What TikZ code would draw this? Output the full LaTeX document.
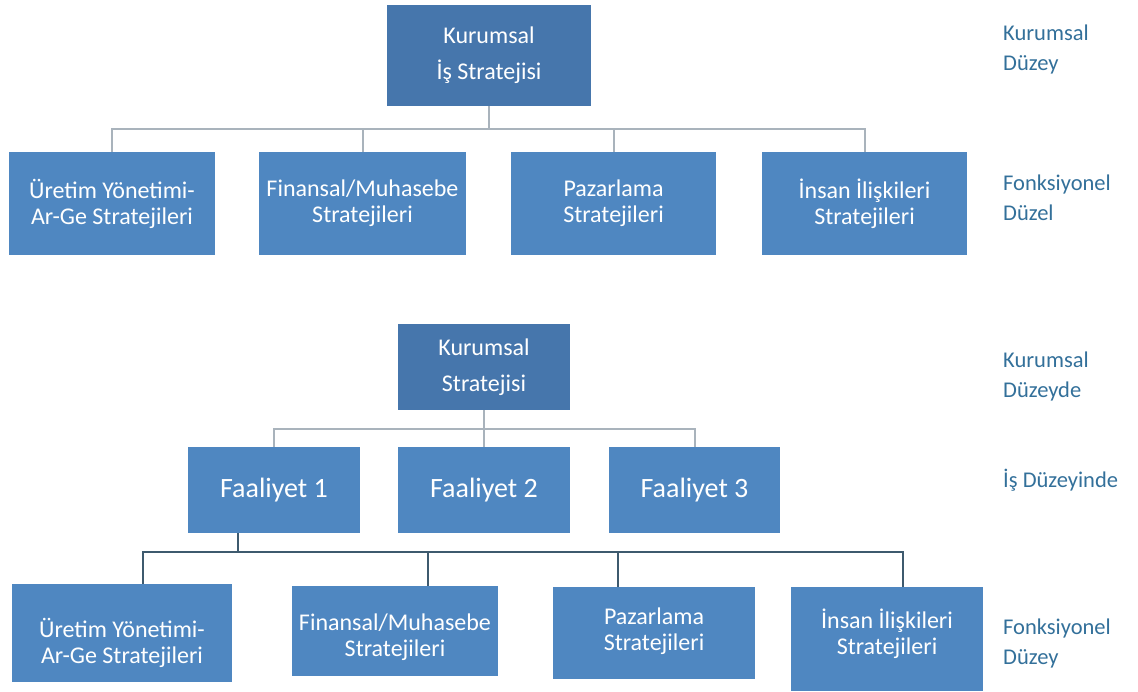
\documentclass[tikz,border=0pt]{standalone}
\usepackage{fontspec}
\setmainfont{Carlito}
\definecolor{darkbox}{HTML}{4676AC}
\definecolor{lightbox}{HTML}{4F87C1}
\definecolor{levelblue}{HTML}{33709A}
\definecolor{thinline}{HTML}{A9B3BC}
\definecolor{darkline}{HTML}{3E5A6E}
\begin{document}
\begin{tikzpicture}[x=1pt,y=-1pt,
  box/.style={fill=lightbox, text=white, inner sep=0pt, align=center, font=\fontsize{24}{26}\selectfont},
  head/.style={box, fill=darkbox, font=\fontsize{24}{36}\selectfont},
  act/.style={box, font=\fontsize{28}{32}\selectfont},
  boxtext/.style={text=white, inner sep=0pt, align=center, font=\fontsize{24}{26}\selectfont},
  level/.style={text=levelblue, anchor=west, align=left, inner sep=0pt, font=\fontsize{22.5}{30}\selectfont},
  conn/.style={thinline, line width=2pt},
  conndark/.style={darkline, line width=2pt}]
\useasboundingbox (0,0) rectangle (1138,691);

\node[head, minimum width=204pt, minimum height=101pt] (kis) at (489,55.5) {Kurumsal\\İş Stratejisi};
\node[box, minimum width=206pt, minimum height=103pt] (fs1) at (112,203.5) {Üretim Yönetimi-\\Ar-Ge Stratejileri};
\node[box, minimum width=207pt, minimum height=103pt] (fs2) at (362.5,203.5) {Finansal/Muhasebe\\Stratejileri};
\node[box, minimum width=205pt, minimum height=103pt] (fs3) at (613.5,203.5) {Pazarlama\\Stratejileri};
\node[box, minimum width=205pt, minimum height=103pt] (fs4) at (864.5,203.5) {İnsan İlişkileri\\Stratejileri};
\foreach \n in {fs1,fs2,fs3,fs4}
  \draw[conn] (kis.south) -- ++(0,23) -| (\n.north);

\node[head, minimum width=172pt, minimum height=86pt] (ks) at (484,367) {Kurumsal\\Stratejisi};
\node[act, minimum width=172pt, minimum height=86pt] (f1) at (274,490) {Faaliyet 1};
\node[act, minimum width=172pt, minimum height=86pt] (f2) at (484,490) {Faaliyet 2};
\node[act, minimum width=171pt, minimum height=86pt] (f3) at (694.5,490) {Faaliyet 3};
\foreach \n in {f1,f2,f3}
  \draw[conn] (ks.south) -- ++(0,19) -| (\n.north);

\node[box, minimum width=220pt, minimum height=98pt] (b1) at (122,633) {};
\node[box, minimum width=206pt, minimum height=90pt] (b2) at (395,631) {};
\node[box, minimum width=202pt, minimum height=92pt] (b3) at (654,633) {};
\node[box, minimum width=192pt, minimum height=104pt] (b4) at (887,639) {};
\node[boxtext] (b1t) at (122,643) {Üretim Yönetimi-\\Ar-Ge Stratejileri};
\node[boxtext] (b2t) at (395,637) {Finansal/Muhasebe\\Stratejileri};
\node[boxtext] (b3t) at (654,631) {Pazarlama\\Stratejileri};
\node[boxtext] (b4t) at (887,634) {İnsan İlişkileri\\Stratejileri};
\foreach \n/\s in {b1/21,b2/33,b3/-36,b4/16}
  \draw[conndark] ([xshift=-36pt]f1.south) -- ++(0,19) -| ([xshift=\s pt]\n.north);

\node[level] (lk1) at (1003,49) {Kurumsal\\Düzey};
\node[level] (lf1) at (1003,198) {Fonksiyonel\\Düzel};
\node[level] (lk2) at (1003,376) {Kurumsal\\Düzeyde};
\node[level] (li2) at (1003,480) {İş Düzeyinde};
\node[level] (lf2) at (1003,643) {Fonksiyonel\\Düzey};
\end{tikzpicture}
\end{document}
